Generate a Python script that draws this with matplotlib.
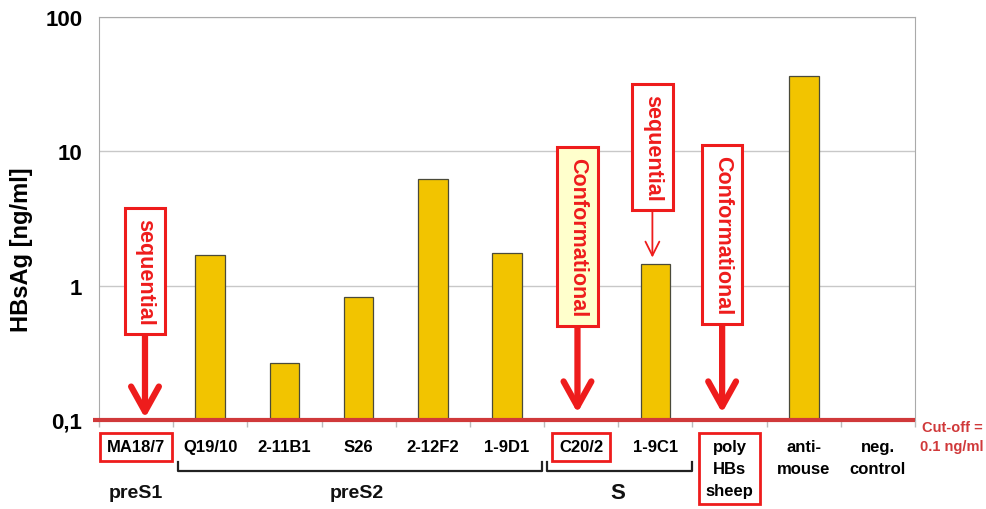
import numpy as np
import matplotlib
matplotlib.use("Agg")
import matplotlib.pyplot as plt
from matplotlib.transforms import blended_transform_factory

plt.rcParams['font.family'] = ['Liberation Sans', 'DejaVu Sans']
plt.rcParams['font.weight'] = 'bold'

# data
categories = ['MA18/7', 'Q19/10', '2-11B1', 'S26', '2-12F2', '1-9D1',
              'C20/2', '1-9C1', 'poly\nHBs\nsheep', 'anti-\nmouse', 'neg.\ncontrol']
values = [0.1, 1.70, 0.266, 0.83, 6.2, 1.76, 0.1, 1.46, 0.1, 36.2, 0.1]
cutoff = 0.1
yticks = [0.1, 1, 10, 100]
ytick_labels = ['0,1', '1', '10', '100']
boxed_labels = ['MA18/7', 'C20/2', 'poly\nHBs\nsheep']

RED = '#ee1c1c'
CUT = '#d0393a'
BAR = '#f2c400'

fig = plt.figure(figsize=(9.87, 5.10), dpi=100)
ax = fig.add_axes([99/987, 1-421/510, 816/987, 403/510])

x = np.arange(len(categories))
ax.bar(x, np.array(values) - cutoff, bottom=cutoff, width=0.4,
       color=BAR, edgecolor='#4a4a3a', linewidth=0.9, zorder=3)

ax.set_yscale('log')
ax.set_ylim(0.1, 100)
ax.set_xlim(-0.5, len(categories) - 0.5)
ax.set_yticks(yticks)
ax.set_yticklabels(ytick_labels, fontsize=16, fontweight='bold')
ax.yaxis.set_minor_locator(matplotlib.ticker.NullLocator())
ax.tick_params(axis='y', length=0, pad=12)
ax.grid(axis='y', color='#c8c8c8', linewidth=1, zorder=0)

ax.set_xticks(x)
ax.set_xticklabels(categories, fontsize=12, fontweight='bold')
ax.set_xticks(np.arange(len(categories) + 1) - 0.5, minor=True)
ax.tick_params(axis='x', which='major', length=0, pad=14)
ax.tick_params(axis='x', which='minor', length=5, color='#bbbbbb', width=1)
for lab in ax.get_xticklabels():
    lab.set_linespacing(1.55)
    if lab.get_text() in boxed_labels:
        lab.set_bbox(dict(boxstyle='square,pad=0.4', facecolor='white',
                          edgecolor=RED, linewidth=2))

for side in ['left', 'right', 'top']:
    ax.spines[side].set_color('#aaaaaa')
ax.spines['bottom'].set_visible(False)

ax.set_ylabel('HBsAg [ng/ml]', fontsize=17, fontweight='bold')
ax.yaxis.set_label_coords(-0.081, 0.425)

# cut-off line
ax.hlines(cutoff, -0.58, len(categories) - 0.5, colors=CUT, linewidth=3,
          clip_on=False, zorder=4)
fig.text(0.9645, 0.142, 'Cut-off =\n0.1 ng/ml', color=CUT, fontsize=10.5,
         fontweight='bold', ha='center', va='center', linespacing=1.5)

# annotation boxes with arrows
def callout(text, xpos, ybox, ytip, face='white', thick=True):
    if thick:
        arrow = dict(arrowstyle='->,head_length=0.9,head_width=0.5',
                     color=RED, lw=4.5, mutation_scale=20, shrinkA=0, shrinkB=0)
    else:
        arrow = dict(arrowstyle='->,head_length=0.5,head_width=0.25',
                     color=RED, lw=1.3, mutation_scale=20, shrinkA=0, shrinkB=0)
    ax.annotate(text, xy=(xpos, ytip), xytext=(xpos, ybox), rotation=270,
                ha='center', va='center', fontsize=15.5, fontweight='bold',
                color=RED, rotation_mode='anchor', annotation_clip=False,
                bbox=dict(boxstyle='square,pad=0.45', facecolor=face,
                          edgecolor=RED, linewidth=2.2),
                arrowprops=arrow, zorder=6)

callout('sequential', 0.12, 1.28, 0.1035)
callout('Conformational', 5.95, 2.32, 0.113, face='#ffffcc')
callout('sequential', 6.96, 10.7, 1.62, thick=False)
callout('Conformational', 7.9, 2.4, 0.113)

# group brackets
tr = blended_transform_factory(ax.transData, ax.transAxes)
for x0, x1 in [(0.566, 5.47), (5.54, 7.49)]:
    ax.plot([x0, x0, x1, x1], [-0.104, -0.1266, -0.1266, -0.104],
            color='#222222', lw=1.6, transform=tr, clip_on=False)
for label, xpos, fs in [('preS1', 0, 14), ('preS2', 2.98, 14), ('S', 6.5, 16)]:
    ax.text(xpos, -0.181, label, transform=tr, ha='center', va='center',
            fontsize=fs, fontweight='bold', color='#111111')

fig.savefig('out.png', dpi=100)
